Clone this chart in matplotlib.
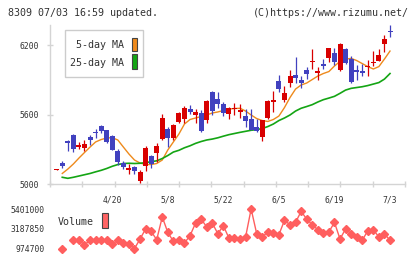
import matplotlib
matplotlib.use("Agg")
import matplotlib.pyplot as plt
import numpy as np
from matplotlib.patches import Rectangle

plt.rcParams['font.family'] = ['DejaVu Sans Mono']

# Data (daily candles, 8309)
opens = [5123, 5181, 5371, 5423, 5322, 5313, 5408, 5446, 5498, 5466,
         5414, 5287, 5184, 5121, 5144, 5026, 5158, 5242, 5270, 5388,
         5477, 5395, 5533, 5559, 5647, 5596, 5613, 5552, 5792, 5731,
         5691, 5602, 5647, 5619, 5590, 5561, 5495, 5408, 5572, 5711,
         5889, 5725, 5875, 5941, 5898, 5984, 6057, 5961, 6036, 6085,
         6128, 5984, 6163, 6076, 5984, 5976, 6013, 6048, 6064, 6209,
         6323]
highs = [5131, 5199, 5380, 5430, 5363, 5380, 5423, 5475, 5512, 5466,
         5423, 5302, 5199, 5173, 5155, 5121, 5328, 5250, 5357, 5604,
         5495, 5518, 5622, 5673, 5682, 5647, 5639, 5725, 5803, 5797,
         5711, 5662, 5702, 5691, 5645, 5645, 5559, 5553, 5725, 5805,
         5941, 5846, 5984, 6099, 5932, 6013, 6165, 6013, 6076, 6171,
         6171, 6215, 6171, 6105, 6027, 6033, 6070, 6148, 6163, 6286,
         6373]
lows = [5123, 5138, 5285, 5274, 5305, 5287, 5337, 5400, 5443, 5351,
        5296, 5164, 5127, 5086, 5084, 5011, 5115, 5136, 5193, 5380,
        5322, 5380, 5524, 5524, 5604, 5524, 5449, 5524, 5596, 5654,
        5587, 5564, 5596, 5567, 5495, 5466, 5452, 5374, 5565, 5624,
        5797, 5710, 5840, 5875, 5826, 5906, 5993, 5898, 5993, 6056,
        6027, 5976, 6036, 5875, 5898, 5935, 5935, 6021, 6064, 6142,
        6272]
closes = [5131, 5155, 5357, 5302, 5337, 5345, 5380, 5438, 5460, 5365,
          5296, 5193, 5144, 5136, 5112, 5101, 5313, 5173, 5328, 5570,
          5400, 5509, 5613, 5656, 5622, 5622, 5458, 5717, 5633, 5688,
          5610, 5659, 5659, 5639, 5546, 5466, 5460, 5553, 5717, 5725,
          5820, 5783, 5932, 5912, 5869, 5950, 6064, 5976, 6021, 6171,
          6056, 6209, 6047, 5883, 5970, 5961, 6021, 6056, 6114, 6252,
          6316]

ma5 = [np.nan, 5091, 5129, 5173, 5224, 5272, 5319, 5363, 5384, 5397,
       5400, 5380, 5319, 5259, 5207, 5181, 5168, 5168, 5177, 5207,
       5294, 5363, 5432, 5518, 5557, 5570, 5583, 5596, 5613, 5622,
       5635, 5647, 5652, 5654, 5630, 5596, 5565, 5548, 5540, 5557,
       5587, 5660, 5747, 5820, 5855, 5872, 5902, 5932, 5954, 5971,
       6019, 6058, 6077, 6085, 6066, 6040, 6014, 5993, 6014, 6079,
       6148]
ma25 = [np.nan, 5058, 5049, 5058, 5069, 5080, 5091, 5105, 5118, 5134,
        5153, 5168, 5177, 5179, 5177, 5179, 5184, 5193, 5200, 5220,
        5246, 5276, 5291, 5313, 5330, 5351, 5367, 5380, 5388, 5399,
        5413, 5426, 5436, 5446, 5455, 5464, 5470, 5479, 5496, 5518,
        5548, 5570, 5596, 5630, 5654, 5669, 5685, 5708, 5728, 5742,
        5757, 5783, 5811, 5826, 5833, 5840, 5850, 5863, 5876, 5906,
        5954]

volume = [np.nan, 974700, np.nan, 1930000, 1930000, 1450000, 1930000, 2000000, 1930000, 2000000,
          1530000, 1930000, 1640000, 1530000, 1020000, 2080000, 3190000, 2920000, 2000000, 4520000,
          2810000, 1820000, 2000000, 1640000, 2450000, 3850000, 4290000, 3410000, 3850000, 2670000,
          3550000, 2190000, 2190000, 2080000, 2300000, 5401000, 2670000, 2300000, 2860000, 2750000,
          2560000, 4140000, 3660000, 3920000, 5140000, 4290000, 3660000, 3110000, 2750000, 2860000,
          3920000, 2080000, 3190000, 2670000, 2300000, 1930000, 3000000, 3110000, 2300000, 2670000,
          1930000]

price_ticks = [5000, 5600, 6200]
date_idx = [10, 20, 30, 40, 50, 60]
date_labels = ['4/20', '5/8', '5/22', '6/5', '6/19', '7/3']

RED = '#d80000'
BLUE = '#4141bf'
ORANGE = '#ee8a1c'
GREEN = '#14a514'
VOL = '#ff5e5e'
GRID = '#d4d4d4'
TXT = '#333333'

W, H = 420, 259
fig = plt.figure(figsize=(W / 100, H / 100), dpi=100)

def fx(x):
    return x / W

def fy(y):
    return 1 - y / H

x = np.arange(len(closes))
xlim = (-1.21, 62.7)

# price panel
ax = fig.add_axes([fx(50), fy(184), fx(405) - fx(50), fy(25) - fy(184)])
o = np.array(opens)
c = np.array(closes)
up = c >= o
cols = np.where(up, RED, BLUE)
ax.vlines(x, lows, highs, colors=cols, lw=0.9, zorder=3)
ax.bar(x, np.abs(c - o), bottom=np.minimum(o, c), width=0.9,
       color=cols, lw=0, zorder=4)
ax.plot(x, ma5, color=ORANGE, lw=1.0, zorder=2)
ax.plot(x, ma25, color=GREEN, lw=1.2, zorder=2)

ax.set_xlim(*xlim)
ax.set_ylim(5000, max(highs))
for s in ['top', 'right']:
    ax.spines[s].set_visible(False)
for s in ['left', 'bottom']:
    ax.spines[s].set_color(GRID)
    ax.spines[s].set_linewidth(1)
ax.set_yticks(price_ticks)
ax.set_yticklabels([str(t) for t in price_ticks])
ax.tick_params(axis='y', direction='inout', length=5, width=1, color=GRID,
               labelsize=5.8, labelcolor=TXT, pad=5.4)
ax.set_xticks(date_idx)
ax.set_xticklabels(date_labels)
ax.set_xticks(np.linspace(xlim[0], xlim[1], 12), minor=True)
ax.tick_params(axis='x', which='major', length=0, labelsize=5.8,
               labelcolor=TXT, pad=8)
ax.tick_params(axis='x', which='minor', direction='inout', length=5,
               width=1, color=GRID)

# volume panel
axv = fig.add_axes([fx(50), fy(249), fx(405) - fx(50), fy(209) - fy(249)])
axv.plot(x, volume, color=VOL, lw=1, marker='D', ms=4.2,
         mfc=VOL, mec=VOL, clip_on=False)
vmin, vmax = np.nanmin(volume), np.nanmax(volume)
axv.set_xlim(*xlim)
axv.set_ylim(vmin, vmax)
vt = [vmin, (vmin + vmax) / 2, vmax]
axv.set_yticks(vt)
axv.set_yticklabels([str(int(v)) for v in vt])
axv.set_xticks([])
axv.tick_params(axis='y', length=0, labelsize=5.8, labelcolor=TXT, pad=4)
for s in axv.spines.values():
    s.set_visible(False)
axv.patch.set_alpha(0)

# legends
fig.patches.append(Rectangle((fx(65), fy(77)), fx(143) - fx(65), fy(30) - fy(77),
                             transform=fig.transFigure, fc='white',
                             ec='#cccccc', lw=1, zorder=5))
fig.text(fx(124.5), fy(45), '5-day MA', ha='right', va='center',
         fontsize=7.2, color=TXT, zorder=6)
fig.text(fx(124.5), fy(62.5), '25-day MA', ha='right', va='center',
         fontsize=7.2, color=TXT, zorder=6)
fig.patches.append(Rectangle((fx(131.7), fy(51)), fx(5.5), fy(0) - fy(13.5),
                             transform=fig.transFigure, fc=ORANGE,
                             ec='#444444', lw=0.8, zorder=6))
fig.patches.append(Rectangle((fx(131.7), fy(69)), fx(5.5), fy(0) - fy(15),
                             transform=fig.transFigure, fc=GREEN,
                             ec='#444444', lw=0.8, zorder=6))
fig.text(fx(58), fy(222), 'Volume', ha='left', va='center',
         fontsize=7.2, color=TXT)
fig.patches.append(Rectangle((fx(101.7), fy(228)), fx(6), fy(0) - fy(15),
                             transform=fig.transFigure, fc='#ff6464',
                             ec='#444444', lw=0.8))

# header
fig.text(fx(8), fy(13), '8309 07/03 16:59 updated.', ha='left', va='center',
         fontsize=7.2, color=TXT)
fig.text(fx(409), fy(13), '(C)https://www.rizumu.net/', ha='right',
         va='center', fontsize=7.2, color=TXT)

fig.savefig('out.png', dpi=100)
